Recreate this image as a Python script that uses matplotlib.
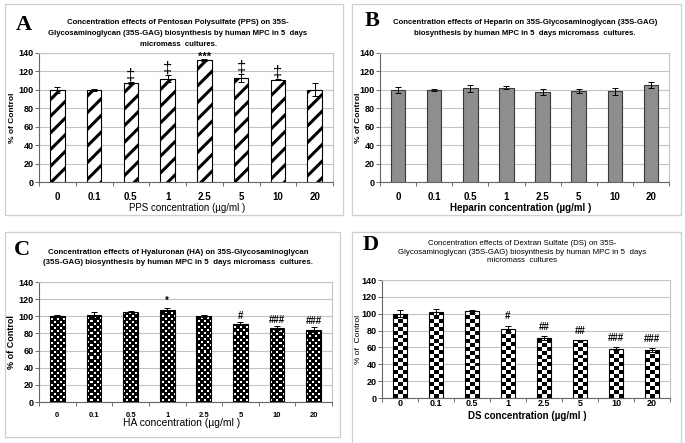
import numpy as np
import matplotlib
matplotlib.use("Agg")
import matplotlib.pyplot as plt
from matplotlib.patches import Rectangle

# --- data ---
conc = ["0", "0.1", "0.5", "1", "2.5", "5", "10", "20"]

pps = [100, 100, 107.5, 112, 132, 112.5, 111, 100]
pps_err = [3.5, 1, 1, 4, 1, 4.5, 0.5, 7]
pps_sig = ["", "", "\u2021", "\u2021", "***", "\u2021", "\u2021", ""]

hep = [100, 99.5, 101.5, 102.5, 97.5, 98.5, 98.5, 105]
hep_err = [3, 1, 3.5, 1.5, 3, 2, 4, 3]

ha = [100, 101.5, 104.5, 107, 100.5, 91.5, 86, 84.5]
ha_err = [1, 3, 2, 3, 1, 1.5, 2.5, 3]
ha_sig = ["", "", "", "*", "", "#", "###", "###"]

ds = [100, 102.5, 103, 82, 71, 68.5, 58.5, 57]
ds_err = [4, 3.5, 2, 4, 2, 0.5, 2, 2]
ds_sig = ["", "", "", "#", "##", "##", "###", "###"]

plt.rcParams["font.family"] = ["Liberation Sans", "DejaVu Sans"]
plt.rcParams["hatch.linewidth"] = 2.2

W, H = 685, 443
fig = plt.figure(figsize=(W / 100, H / 100), dpi=100)


def px_axes(x0, y0, x1, y1):
    return fig.add_axes([x0 / W, 1 - y1 / H, (x1 - x0) / W, (y1 - y0) / H])


def frame(x0, y0, x1, y1):
    fig.patches.append(Rectangle((x0 / W, 1 - y1 / H), (x1 - x0) / W, (y1 - y0) / H,
                                 transform=fig.transFigure, fill=False,
                                 edgecolor="#cfcfcf", linewidth=0.9))


def ftext(x, y, s, **kw):
    fig.text(x / W, 1 - y / H, s, ha="center", va="center", **kw)


def style_axes(ax, xtick_size=6.5, pad=7):
    x = np.arange(len(conc))
    ax.set_xlim(-0.5, len(conc) - 0.5)
    ax.set_ylim(0, 140)
    ax.set_yticks(range(0, 141, 20))
    ax.yaxis.grid(True, color="#c4c4c4", linewidth=0.8)
    ax.set_axisbelow(True)
    ax.set_xticks(x)
    ax.set_xticklabels(conc, fontsize=xtick_size, fontweight="bold")
    ax.set_xticks(np.arange(-0.5, len(conc)), minor=True)
    ax.tick_params(axis="x", which="major", length=0, pad=pad)
    ax.tick_params(axis="x", which="minor", length=3, color="#555555", width=0.6)
    ax.tick_params(axis="y", length=3, color="#555555", width=0.6, pad=1)
    for lab in ax.get_yticklabels():
        lab.set_fontsize(6.5)
        lab.set_fontweight("bold")
    for side in ["top", "right"]:
        ax.spines[side].set_color("#c4c4c4")
        ax.spines[side].set_linewidth(0.8)
    for side in ["left", "bottom"]:
        ax.spines[side].set_color("#666666")
        ax.spines[side].set_linewidth(0.8)


def ylabel_at(ax, text, x_px, ax_x0, ax_w, **kw):
    # x_px is where the label's centre line should sit
    ax.set_ylabel(text, va="center", **kw)
    ax.yaxis.set_label_coords((x_px - ax_x0) / ax_w, 0.5)


def errbars(ax, vals, errs):
    ax.errorbar(np.arange(len(vals)), vals, yerr=errs, fmt="none", ecolor="black",
                elinewidth=0.7, capsize=2, capthick=0.7, zorder=5)


def sig_marks(ax, vals, errs, sig, size, off, weight="bold"):
    for i, s in enumerate(sig):
        if s:
            ax.annotate(s, (i, vals[i] + errs[i]), xytext=(0, off), textcoords="offset points",
                        ha="center", va="bottom", fontsize=size, fontweight=weight)


def textured_bars(ax, vals, tex):
    x = np.arange(len(vals))
    bars = ax.bar(x, vals, width=0.4, color="none", edgecolor="black", linewidth=0.8, zorder=4)
    for b in bars:
        im = ax.imshow(tex, cmap="gray", vmin=0, vmax=1, extent=(-0.5, len(vals) - 0.5, 0, 140),
                       aspect="auto", interpolation="nearest", zorder=3)
        im.set_clip_path(b)
    return bars


# ---------- panel A ----------
frame(5, 4, 343, 215)
axA = px_axes(39, 53, 333, 182)
axA.bar(np.arange(len(pps)), pps, width=0.4, color="white", edgecolor="black",
        hatch="//", linewidth=0.8, zorder=3)
errbars(axA, pps, pps_err)
style_axes(axA, xtick_size=7)
for i, s in enumerate(pps_sig):
    if s == "***":
        axA.annotate(s, (i, pps[i] + pps_err[i]), xytext=(0, -2), textcoords="offset points",
                     ha="center", va="bottom", fontsize=8, fontweight="bold")
    elif s:
        axA.annotate(s, (i, pps[i] + pps_err[i]), xytext=(0, 0), textcoords="offset points",
                     ha="center", va="bottom", fontsize=12)
ylabel_at(axA, "% of Control", 13, 39, 294, fontsize=6, fontweight="bold")
ftext(24, 25, "A", family="Liberation Serif", fontsize=16, fontweight="bold")
ftext(178, 22, "Concentration effects of Pentosan Polysulfate (PPS) on 35S-", fontsize=5.6, fontweight="bold")
ftext(178, 33.5, "Glycosaminoglycan (35S-GAG) biosynthesis by human MPC in 5  days", fontsize=5.6, fontweight="bold")
ftext(178, 45, "micromass  cultures.", fontsize=5.6, fontweight="bold")
ftext(187, 208, "PPS concentration (\u00b5g/ml )", fontsize=7)

# ---------- panel B ----------
frame(352, 4, 681, 215)
axB = px_axes(380, 53, 669, 182)
axB.bar(np.arange(len(hep)), hep, width=0.4, color="#8e8e8e", edgecolor="#3a3a3a",
        linewidth=0.8, zorder=3)
errbars(axB, hep, hep_err)
style_axes(axB, xtick_size=7)
ylabel_at(axB, "% of Control", 359, 380, 289, fontsize=6, fontweight="bold")
ftext(372, 21, "B", family="Liberation Serif", fontsize=16, fontweight="bold")
ftext(525, 22, "Concentration effects of Heparin on 35S-Glycosaminoglycan (35S-GAG)", fontsize=5.6, fontweight="bold")
ftext(525, 33.5, "biosynthesis by human MPC in 5  days micromass  cultures.", fontsize=5.6, fontweight="bold")
ftext(521, 208, "Heparin concentration (\u00b5g/ml )", fontsize=7, fontweight="bold")

# ---------- panel C ----------
frame(5, 232, 340, 437)
axC = px_axes(39, 282, 332, 402)
ii, jj = np.mgrid[0:120, 0:293]
texC = (((ii % 6) < 2) & ((jj % 6) < 2)) | ((((ii + 3) % 6) < 2) & (((jj + 3) % 6) < 2))
textured_bars(axC, ha, texC.astype(float))
errbars(axC, ha, ha_err)
style_axes(axC, xtick_size=5.5)
sig_marks(axC, ha, ha_err, ha_sig, 7, 1)
ylabel_at(axC, "% of Control", 12, 39, 293, fontsize=6.5, fontweight="bold")
ftext(22, 250, "C", family="Liberation Serif", fontsize=16, fontweight="bold")
ftext(178, 252, "Concentration effects of Hyaluronan (HA) on 35S-Glycosaminoglycan", fontsize=5.7, fontweight="bold")
ftext(178, 263, "(35S-GAG) biosynthesis by human MPC in 5  days micromass  cultures.", fontsize=5.7, fontweight="bold")
ftext(182, 423, "HA concentration (\u00b5g/ml )", fontsize=7.5)

# ---------- panel D ----------
frame(352, 232, 681, 450)
axD = px_axes(382, 280, 670, 398)
ii, jj = np.mgrid[0:30, 0:72]
texD = ((ii + jj) % 2).astype(float)
textured_bars(axD, ds, texD)
errbars(axD, ds, ds_err)
style_axes(axD, xtick_size=6.5, pad=1)
sig_marks(axD, ds, ds_err, ds_sig, 7, 3)
ylabel_at(axD, "% of  Control", 359, 382, 288, fontsize=6)
ftext(371, 245, "D", family="Liberation Serif", fontsize=16, fontweight="bold")
ftext(522, 243, "Concentration effects of Dextran Sulfate (DS) on 35S-", fontsize=5.7)
ftext(522, 252, "Glycosaminoglycan (35S-GAG) biosynthesis by human MPC in 5  days", fontsize=5.7)
ftext(522, 261, "micromass  cultures", fontsize=5.7)
ftext(527, 416, "DS concentration (\u00b5g/ml )", fontsize=7, fontweight="bold")

fig.savefig("out.png", dpi=100)
plt.close(fig)
